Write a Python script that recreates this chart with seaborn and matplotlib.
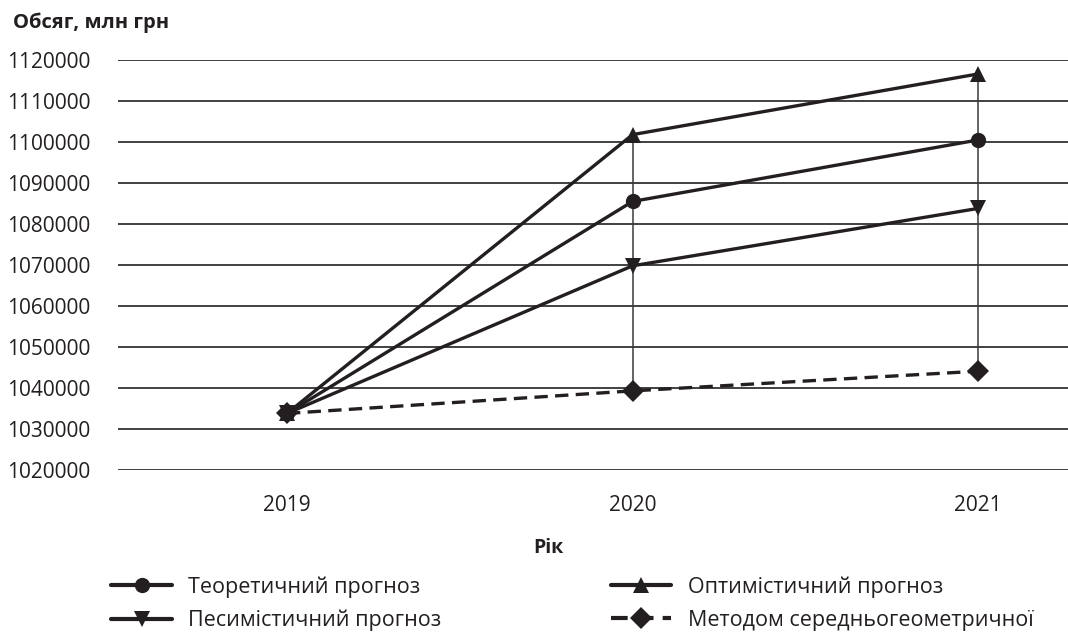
import matplotlib
matplotlib.use("Agg")
import matplotlib.pyplot as plt
import seaborn as sns
import pandas as pd
from matplotlib.lines import Line2D

years = [2019, 2020, 2021]
theoretical = [1033800, 1085500, 1100500]
optimistic = [1033800, 1101800, 1116600]
pessimistic = [1033800, 1069800, 1083800]
geometric = [1033800, 1039300, 1044100]
series_names = ["Теоретичний прогноз", "Оптимістичний прогноз",
                "Песимістичний прогноз", "Методом середньогеометричної"]
y_ticks = [1020000, 1030000, 1040000, 1050000, 1060000, 1070000,
           1080000, 1090000, 1100000, 1110000, 1120000]

sns.set_theme(style="white")
plt.rcParams['font.family'] = ['Open Sans', 'DejaVu Sans']

INK = "#231f20"
LW = 2.4
df = pd.DataFrame({
    "year": years * 4,
    "value": theoretical + optimistic + pessimistic + geometric,
    "series": [s for s in series_names for _ in years],
})

fig = plt.figure(figsize=(10.68, 6.39), dpi=100)
ax = fig.add_axes([118 / 1068, 1 - 470 / 639, 1 - 118 / 1068, (470 - 60) / 639])

markers = {series_names[0]: "o", series_names[1]: "^",
           series_names[2]: "v", series_names[3]: "D"}
dashes = {series_names[0]: "", series_names[1]: "",
          series_names[2]: "", series_names[3]: (4, 2.2)}

# hi-lo lines
values_by_year = list(zip(theoretical, optimistic, pessimistic, geometric))
hi = [max(v) for v in values_by_year]
lo = [min(v) for v in values_by_year]
ax.vlines(years[1:], lo[1:], hi[1:], color="#3a3a3a", lw=1.1, zorder=2)

sns.lineplot(data=df, x="year", y="value", hue="series", style="series",
             palette=[INK] * 4, markers=markers, dashes=dashes,
             markersize=11, markeredgewidth=0, linewidth=LW,
             ax=ax, legend=False, zorder=3)

ax.set_xlim(2018.511, 2021.26)
ax.set_ylim(1020000, 1120000)
ax.set_yticks(y_ticks)
ax.set_yticklabels([str(t) for t in y_ticks])
ax.set_xticks(years)
ax.set_xticklabels([str(y) for y in years])
ax.yaxis.grid(True, color="#333333", lw=1.3)
ax.xaxis.grid(False)
for s in ax.spines.values():
    s.set_visible(False)
ax.tick_params(axis="y", length=0, pad=20, labelsize=15, labelcolor=INK)
ax.tick_params(axis="x", length=0, pad=18, labelsize=15, labelcolor=INK)
ax.set_xlabel("")
ax.set_ylabel("")

fig.text(13 / 1068, 1 - 23 / 639, "Обсяг, млн грн", fontsize=14.5,
         fontweight="bold", color=INK, va="center", ha="left")
fig.text(548 / 1068, 1 - 548 / 639, "Рік", fontsize=14,
         fontweight="bold", color=INK, va="center", ha="center")

handles = []
for name in series_names:
    ls = (0, (4, 2.2)) if name == series_names[3] else "-"
    handles.append(Line2D([0], [0], color=INK, lw=LW + 0.6, ls=ls,
                          marker=markers[name], markersize=11,
                          markeredgewidth=0))
order = [0, 2, 1, 3]
fig.legend([handles[i] for i in order], [series_names[i] for i in order],
           ncol=2, loc="lower left", bbox_to_anchor=(92 / 1068, -0.018),
           frameon=False, fontsize=15.5, handlelength=2.8, handletextpad=0.75,
           columnspacing=7.9, labelspacing=0.55, labelcolor=INK)

fig.savefig("out.png", dpi=100)
